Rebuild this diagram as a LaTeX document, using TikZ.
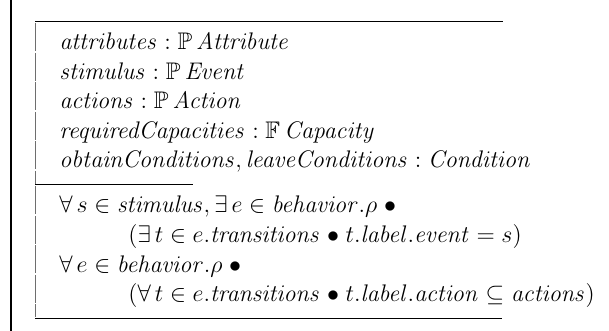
\documentclass[tikz,border=0pt]{standalone}
\usepackage{amsmath,amssymb}
\usepackage{tikz}
\definecolor{zgray}{RGB}{110,110,110}
\newcommand{\zid}[1]{\mathit{#1}}
\newcommand{\zdot}{\mathrel{\bullet}}

\begin{document}
\begin{tikzpicture}[x=1pt,y=1pt,
    zline/.style={line width=0.5pt},
    zrow/.style={anchor=base west,inner sep=0pt,font=\fontsize{12}{14.5}\selectfont}]
\useasboundingbox (0,0) rectangle (304.5,-165.5);

% margin rule
\draw[line width=0.6pt] (5.5,0) -- (5.5,-165.5);

% schema frame
\draw[zline] (17.5,-11) -- (251.5,-11);
\draw[zline] (17.5,-92.5) -- (96.5,-92.5);
\draw[zline] (17.5,-159) -- (251,-159);
\foreach \t/\b in {-11/-26,-26/-40.75,-40.75/-55.5,-55.5/-70.25,-70.25/-85,-85/-92.5,
                   -92.5/-107.5,-107.5/-122.25,-122.25/-137,-137/-151.75,-151.75/-159} {
    \draw[zline,zgray] (17.5,\t-0.4) -- (17.5,\b+0.4);
}

% declarations
\foreach \txt [count=\i] in {
    {$\zid{attributes} : \mathbb{P}\,\zid{Attribute}$},
    {$\zid{stimulus} : \mathbb{P}\,\zid{Event}$},
    {$\zid{actions} : \mathbb{P}\,\zid{Action}$},
    {$\zid{requiredCapacities} : \mathbb{F}\,\zid{Capacity}$},
    {$\zid{obtainConditions}, \zid{leaveConditions} : \zid{Condition}$}} {
    \node[zrow] (decl\i) at (29.5,-10.25-\i*14.75) {\txt};
}

% predicates
\node[zrow] (pred1) at (29.5,-106.5)
    {$\forall\,s \in \zid{stimulus}, \exists\,e \in \zid{behavior}.\rho \zdot$};
\node[zrow] (pred2) at (64,-121.25)
    {$(\exists\,t \in e.\zid{transitions} \zdot t.\zid{label}.\zid{event} = s)$};
\node[zrow] (pred3) at (29.5,-136)
    {$\forall\,e \in \zid{behavior}.\rho \zdot$};
\node[zrow] (pred4) at (64,-150.75)
    {$(\forall\,t \in e.\zid{transitions} \zdot t.\zid{label}.\zid{action} \subseteq \zid{actions})$};
\end{tikzpicture}
\end{document}
